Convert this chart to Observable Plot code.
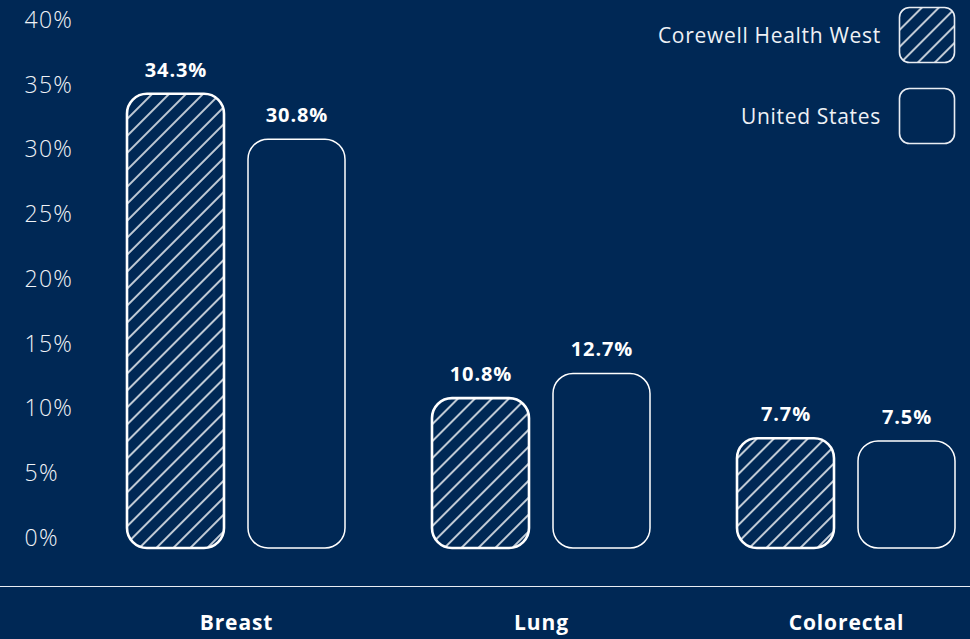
<!DOCTYPE html>
<html>
<head>
<meta charset="utf-8">
<script src="https://cdn.jsdelivr.net/npm/d3@7"></script>
<script src="https://cdn.jsdelivr.net/npm/@observablehq/plot@0.6"></script>
<style>
  html, body { margin: 0; padding: 0; background: #002855; }
  #wrap { position: relative; width: 970px; height: 639px; background: #002855; overflow: hidden; font-family: "Open Sans", sans-serif; }
  #sep { position: absolute; left: 0; top: 586px; width: 970px; height: 0; border-top: 1.6px solid #e9edf3; }
  #legend { position: absolute; right: 14px; top: 7px; }
  .row { display: flex; align-items: center; justify-content: flex-end; height: 56px; margin-bottom: 25px; }
  .row span { color: #eef1f5; font-size: 21px; font-weight: 400; margin-right: 17px; letter-spacing: 0.7px; }
  .row svg { display: block; }
</style>
</head>
<body>
<div id="wrap">
  <div id="chart"></div>
  <div id="sep"></div>
  <div id="legend"></div>
</div>
<script>
const categories = ["Breast", "Lung", "Colorectal"];
const series = ["Corewell Health West", "United States"];
const corewellValues = [34.3, 10.8, 7.7];
const usValues = [30.8, 12.7, 7.5];
const yTicks = [0, 5, 10, 15, 20, 25, 30, 35, 40];

const rows = [];
categories.forEach((c, i) => {
  rows.push({cat: c, series: series[0], value: corewellValues[i]});
  rows.push({cat: c, series: series[1], value: usValues[i]});
});
const hatched = rows.filter(d => d.series === series[0]);
const plain = rows.filter(d => d.series === series[1]);

const chart = Plot.plot({
  width: 970,
  height: 639,
  marginTop: 20,
  marginBottom: 101,
  marginLeft: 114,
  marginRight: 2,
  style: {background: "transparent", color: "#ffffff", fontFamily: "'Open Sans', sans-serif"},
  fx: {domain: categories, paddingInner: 0.2, paddingOuter: 0, label: null},
  x: {domain: series, paddingInner: 0.198, paddingOuter: 0.107, axis: null},
  y: {domain: [0, 40], axis: null},
  marks: [
    Plot.axisY({ticks: yTicks, tickFormat: d => d + "%", tickSize: 0, tickPadding: 0, textAnchor: "start", dx: -90, fontSize: 23, fontWeight: 300, fill: "#f0f3f7", label: null}),
    Plot.axisFx({anchor: "bottom", tickSize: 0, tickPadding: 77, fontSize: 21, fontWeight: 700, fill: "#ffffff", label: null}),
    Plot.barY(hatched, {fx: "cat", x: "series", y: "value", fill: "url(#hatch)", stroke: "#ffffff", strokeWidth: 2.6, rx: 20, insetBottom: -10}),
    Plot.barY(plain, {fx: "cat", x: "series", y: "value", fill: "none", stroke: "#ffffff", strokeWidth: 1.5, rx: 20, insetBottom: -10}),
    Plot.text(rows, {fx: "cat", x: "series", y: "value", text: d => d.value.toFixed(1) + "%", dy: -24, fill: "#ffffff", fontSize: 20, fontWeight: 700})
  ]
});

d3.select(chart).insert("defs", ":first-child").html(
  '<pattern id="hatch" patternUnits="userSpaceOnUse" width="12" height="12" patternTransform="rotate(45)">' +
  '<line x1="6" y1="-1" x2="6" y2="13" stroke="#ffffff" stroke-width="1.5"/></pattern>'
);
d3.select(chart).selectAll("g[aria-label='y-axis tick label'] text, g[aria-label='y-axis tick label']").style("letter-spacing", "1.3px");
d3.select(chart).selectAll("g[aria-label='fx-axis tick label']").style("letter-spacing", "0.9px");
d3.select(chart).selectAll("g[aria-label='text']").style("letter-spacing", "0.9px");
document.getElementById("chart").appendChild(chart);

// legend
const legend = d3.select("#legend");
series.forEach((s, i) => {
  const row = legend.append("div").attr("class", "row");
  row.append("span").text(s);
  const sw = row.append("svg").attr("width", 58).attr("height", 58);
  if (i === 0) {
    sw.append("defs").html(
      '<pattern id="hatchLegend" patternUnits="userSpaceOnUse" width="12" height="12" patternTransform="rotate(45)">' +
      '<line x1="6" y1="-1" x2="6" y2="13" stroke="#ffffff" stroke-width="1.5"/></pattern>'
    );
  }
  sw.append("rect").attr("x", 1.5).attr("y", 1.5).attr("width", 55).attr("height", 55).attr("rx", 10)
    .attr("fill", i === 0 ? "url(#hatchLegend)" : "none")
    .attr("stroke", "#e9edf3").attr("stroke-width", 1.6);
});
</script>
</body>
</html>
